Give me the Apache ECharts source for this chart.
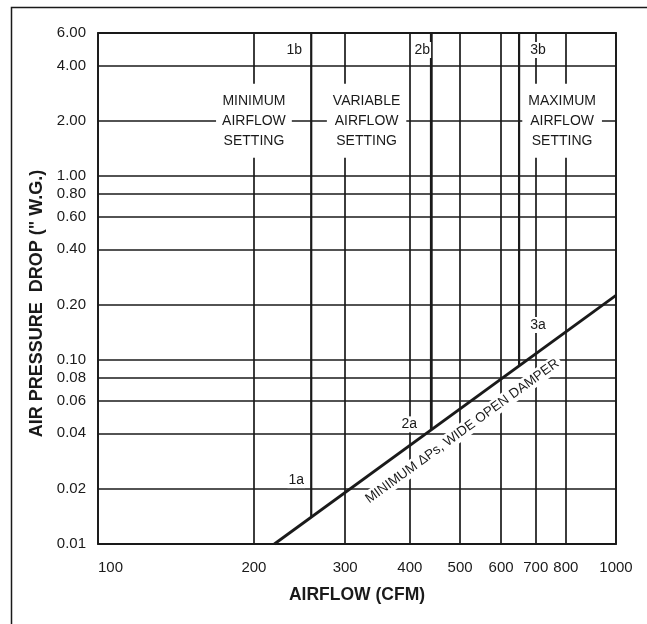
<!DOCTYPE html>
<html>
<head>
<meta charset="utf-8">
<script src="https://cdn.jsdelivr.net/npm/echarts@6/dist/echarts.min.js"></script>
<style>
  html, body { margin: 0; padding: 0; background: #fff; }
  #chart { width: 647px; height: 624px; }
</style>
</head>
<body>
<div id="chart"></div>
<script>
// axis ticks
const xTicks = [100, 200, 300, 400, 500, 600, 700, 800, 1000];
const yTicks = [0.01, 0.02, 0.04, 0.06, 0.08, 0.1, 0.2, 0.4, 0.6, 0.8, 1, 2, 4, 6];

// minimum static pressure curve, wide open damper (two ends of a straight log-log line)
const curveAirflow = [219, 1000];
const curveDrop = [0.01, 0.225];

// setting lines 1, 2, 3 (airflow, where they meet the curve, top of chart)
const settingAirflow = [258, 440, 650];
const settingBottomDrop = [0.014, 0.042, 0.094];
const settingTopDrop = 6;
const bottomNames = ['1a', '2a', '3a'];
const topNames = ['1b', '2b', '3b'];

// region captions
const regionNames = ['MINIMUM\nAIRFLOW\nSETTING', 'VARIABLE\nAIRFLOW\nSETTING', 'MAXIMUM\nAIRFLOW\nSETTING'];
const regionAirflow = [200, 330, 787];
const regionDrop = [2, 2, 2];
const curveCaption = 'MINIMUM \u0394Ps, WIDE OPEN DAMPER';

const ink = '#1a1a1a';
const plain = '"Liberation Sans", Arial, sans-serif';

// label offsets (pixels) around the setting lines
const topOffsets = [[-17, 17], [-9, 17], [19, 17]];
const bottomOffsets = [[-15, -37], [-22, -5], [19, -40]];
const lineWidths = [2.2, 2.8, 2.2];

const chart = echarts.init(document.getElementById('chart'));

const smallLabel = (text, offset) => ({
    show: true,
    position: 'inside',
    formatter: text,
    offset: offset,
    color: ink,
    fontFamily: plain,
    fontSize: 14,
    backgroundColor: '#fff',
    padding: [1, 1]
});

const settingSeries = settingAirflow.map((q, i) => ({
    type: 'line',
    z: 4,
    symbol: 'circle',
    symbolSize: 0.1,
    showSymbol: true,
    silent: true,
    itemStyle: { color: ink },
    lineStyle: { color: ink, width: lineWidths[i] },
    data: [
        { value: [q, settingBottomDrop[i]], label: smallLabel(bottomNames[i], bottomOffsets[i]) },
        { value: [q, settingTopDrop], label: smallLabel(topNames[i], topOffsets[i]) }
    ]
}));

const regionPoints = regionNames.map((name, i) => ({
    coord: [regionAirflow[i], regionDrop[i]],
    label: {
        show: true,
        formatter: name,
        color: ink,
        fontFamily: plain,
        fontSize: 14,
        lineHeight: 20,
        align: 'center',
        verticalAlign: 'middle',
        backgroundColor: '#fff',
        padding: [7, 6]
    }
}));

const option = {
    animation: false,
    backgroundColor: '#fff',
    grid: {
        left: 98, right: 31, top: 33, bottom: 80,
        show: true,
        borderColor: ink,
        borderWidth: 1.8
    },
    xAxis: {
        type: 'log',
        min: 100,
        max: 1000,
        name: 'AIRFLOW (CFM)',
        nameLocation: 'middle',
        nameGap: 42,
        nameTextStyle: { color: ink, fontFamily: plain, fontWeight: 'bold', fontSize: 17.5 },
        axisLine: { show: false },
        axisTick: { show: false, customValues: xTicks },
        axisLabel: {
            customValues: xTicks,
            color: ink,
            fontFamily: plain,
            fontSize: 15,
            margin: 16,
            alignMinLabel: 'left',
            formatter: v => String(Math.round(v))
        },
        splitLine: { show: true, lineStyle: { color: ink, width: 1.7 } }
    },
    yAxis: {
        type: 'log',
        min: 0.01,
        max: 6,
        name: 'AIR PRESSURE  DROP (" W.G.)',
        nameLocation: 'middle',
        nameGap: 50,
        nameTextStyle: {
            color: ink, fontFamily: plain, fontWeight: 'bold', fontSize: 18,
            padding: [0, 30, 0, 0]
        },
        axisLine: { show: false },
        axisTick: { show: false, customValues: yTicks },
        axisLabel: {
            customValues: yTicks,
            color: ink,
            fontFamily: plain,
            fontSize: 15,
            margin: 12,
            formatter: v => Number(v).toFixed(2)
        },
        splitLine: { show: true, lineStyle: { color: ink, width: 1.7 } }
    },
    graphic: [{
        type: 'polyline',
        silent: true,
        shape: { points: [[11.5, 624], [11.5, 7.5], [647, 7.5]] },
        style: { stroke: ink, lineWidth: 1.5, fill: null }
    }],
    series: [
        {
            type: 'line',
            z: 3,
            symbol: 'none',
            silent: true,
            lineStyle: { color: ink, width: 2.8 },
            data: curveAirflow.map((q, i) => [q, curveDrop[i]]),
            markPoint: {
                z: 2,
                symbol: 'rect',
                symbolSize: 0,
                silent: true,
                data: regionPoints.concat([{
                    coord: [505, 0.041],
                    label: {
                        show: true,
                        formatter: curveCaption,
                        rotate: 36,
                        color: ink,
                        fontFamily: plain,
                        fontSize: 13.5,
                        backgroundColor: '#fff',
                        padding: [1, 3]
                    }
                }])
            }
        }
    ].concat(settingSeries)
};

chart.setOption(option);
</script>
</body>
</html>
